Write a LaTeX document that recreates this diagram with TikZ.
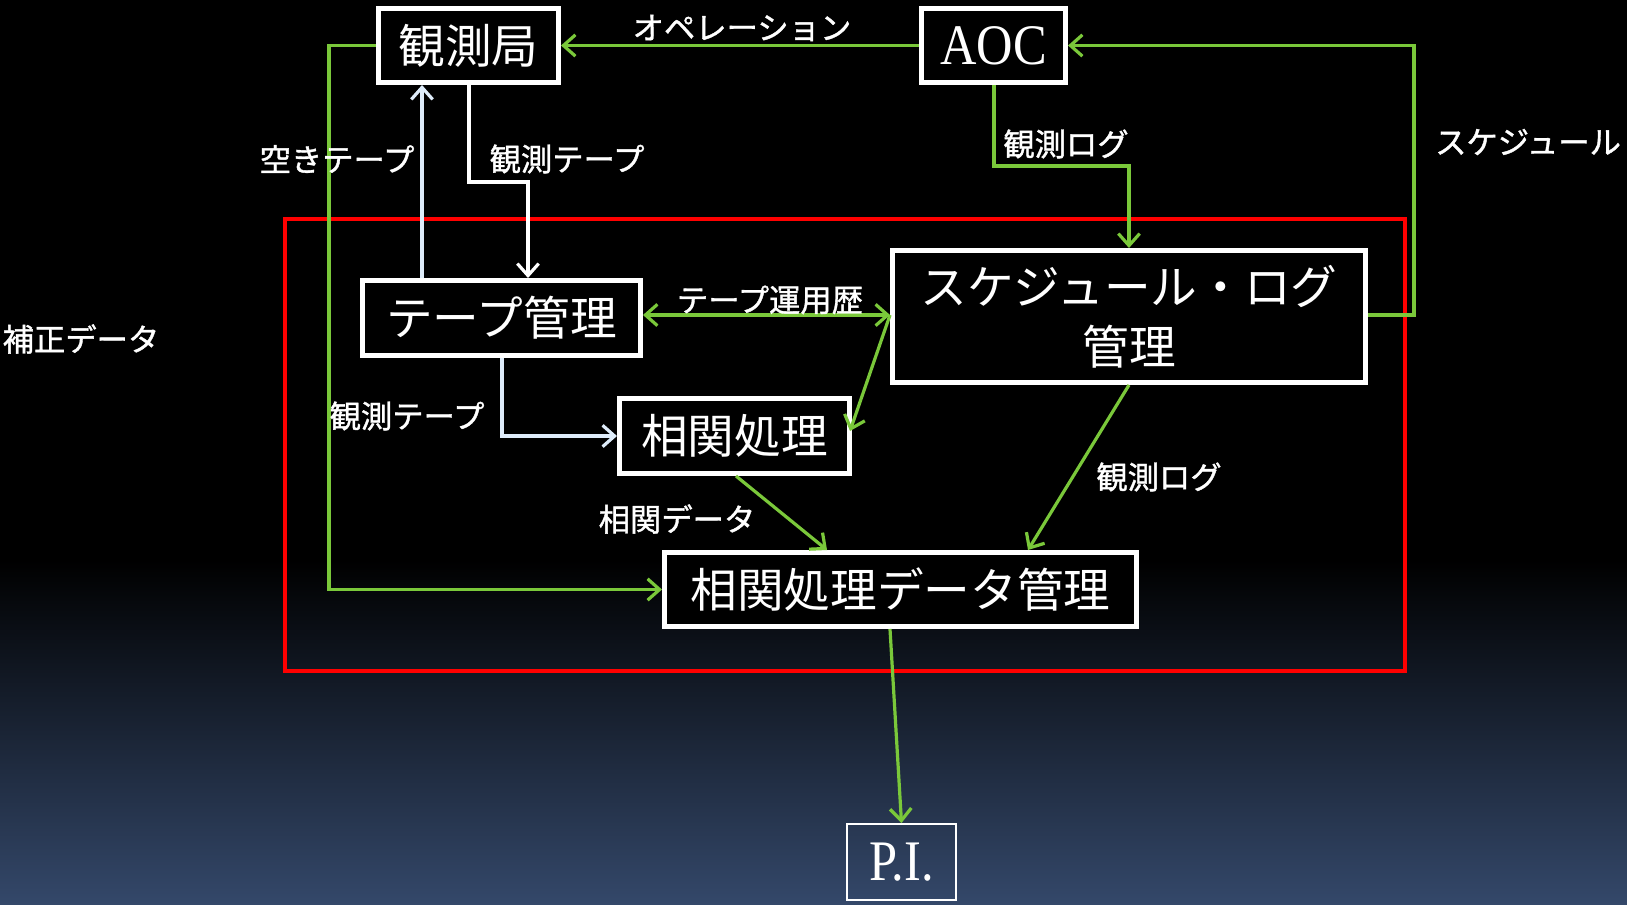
\documentclass[tikz,border=0pt]{standalone}
\usepackage{fontspec}
\usetikzlibrary{arrows.meta}
\newfontfamily\jp{Noto Sans CJK JP}
\newfontfamily\jpl[FakeBold=1.2]{Noto Sans CJK JP}
\newfontfamily\lat[FakeStretch=0.88]{Liberation Serif}
\definecolor{grn}{RGB}{122,200,58}
\definecolor{lblue}{RGB}{222,236,250}
\definecolor{bgblue}{RGB}{52,72,106}
\begin{document}
\begin{tikzpicture}[x=0.75pt,y=-0.75pt,
  box/.style={draw=white,line width=3.75pt,fill=black,text=white,inner sep=0pt,font=\jp\fontsize{35}{45}\selectfont,align=center},
  lbl/.style={text=white,inner sep=0pt,font=\jpl\fontsize{23.5}{28}\selectfont},
  arr/.style={-{Straight Barb[length=9pt,width=16pt]}},
  darr/.style={{Straight Barb[length=9pt,width=16pt]}-{Straight Barb[length=9pt,width=16pt]}},
  gline/.style={draw=grn,line width=2.4pt},
  wline/.style={draw=white,line width=2.4pt},
  bline/.style={draw=lblue,line width=2.4pt}]
\useasboundingbox (0,0) rectangle (1627,904);
\fill[black] (0,0) rectangle (1627,904);
\shade[top color=black,bottom color=bgblue] (0,560) rectangle (1627,905);
\draw[red,line width=2.4pt] (285,219) rectangle (1405,671);
% nodes
\node[box,minimum width=135pt,minimum height=55.5pt] (obs) at (468.5,45.5) {観測局};
\node[box,minimum width=108pt,minimum height=55.5pt,font=\lat\fontsize{43}{45}\selectfont] (aoc) at (993.5,45.5) {AOC};
\node[box,minimum width=208.5pt,minimum height=56.25pt] (tape) at (501.5,318) {テープ管理};
\node[box,minimum width=354.75pt,minimum height=99pt] (sched) at (1129,316.5) {スケジュール・ログ\\管理};
\node[box,minimum width=172.5pt,minimum height=56.25pt] (corr) at (734.5,436) {相関処理};
\node[box,minimum width=354pt,minimum height=55.5pt] (cdm) at (900.5,589.5) {相関処理データ管理};
\node[draw=white,line width=1.5pt,text=white,inner sep=0pt,minimum width=81.75pt,minimum height=57pt,font=\lat\fontsize{43}{45}\selectfont] (pi) at (901.5,862) {P.I.};
% helper coordinates
\coordinate (kx) at (329,300);
\coordinate (a1) at (422,0);
\coordinate (t1) at (469,182);
\coordinate (t2) at (528,182);
\coordinate (l1) at (994,166);
\coordinate (s1) at (1414,315);
\coordinate (h1) at (0,315);
\coordinate (d2) at (0,431);
\coordinate (m1) at (502,436);
\coordinate (p1) at (736,0);
\coordinate (p2) at (827,0);
\coordinate (p3) at (1028,0);
\coordinate (p4) at (890,0);
% connectors
\draw[gline,arr] (aoc.west) -- (obs.east);
\draw[gline,arr] (obs.west) -| (kx) |- (cdm.west);
\draw[bline,arr] (tape.north -| a1) -- (obs.south -| a1);
\draw[wline,arr] (obs.south -| t1) -- (t1) -- (t2) -- (tape.north -| t2);
\draw[gline,arr] (aoc.south -| l1) -- (l1) -| (sched.north);
\draw[gline,arr] (sched.east |- s1) -- (s1) |- (aoc.east);
\draw[gline,darr] (tape.east |- h1) -- (sched.west |- h1);
\draw[gline,arr] (sched.west |- h1) -- ([xshift=-1.5pt]corr.east |- d2);
\draw[bline,arr] (tape.south -| m1) |- (corr.west);
\draw[gline,arr] (corr.south -| p1) -- (cdm.north -| p2);
\draw[gline,arr] (sched.south) -- (cdm.north -| p3);
\draw[gline,arr] (cdm.south -| p4) -- (pi.north);
% labels
\node[lbl] (lop) at (742,28) {オペレーション};
\node[lbl] (lhs) at (81,339) {補正データ};
\node[lbl] (lak) at (337,159) {空きテープ};
\node[lbl] (lkt) at (567,159) {観測テープ};
\node[lbl] (lkl) at (1066,144) {観測ログ};
\node[lbl] (lsc) at (1528,142) {スケジュール};
\node[lbl] (ltu) at (770,300) {テープ運用歴};
\node[lbl] (lkt2) at (407,416) {観測テープ};
\node[lbl] (lsd) at (677,519) {相関データ};
\node[lbl] (lkl2) at (1159,477) {観測ログ};
\end{tikzpicture}
\end{document}
